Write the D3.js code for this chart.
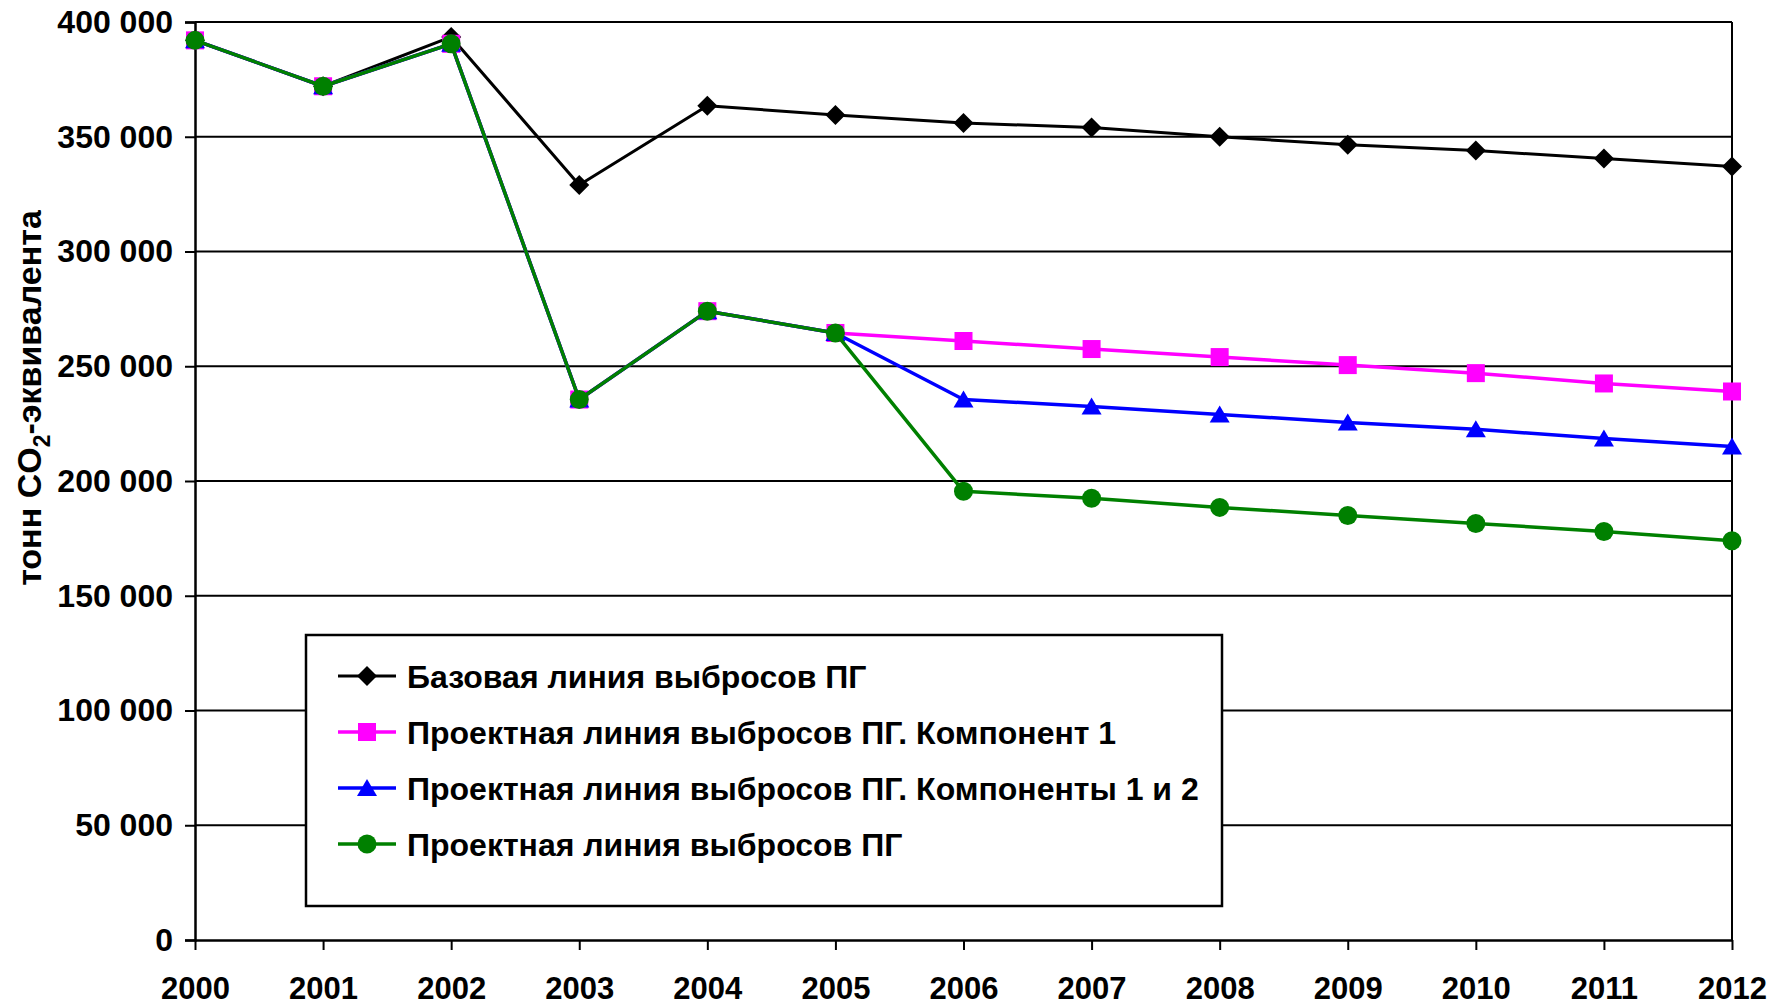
<!DOCTYPE html>
<html>
<head>
<meta charset="utf-8">
<script src="https://cdn.jsdelivr.net/npm/d3@7"></script>
<style>
  body { margin: 0; background: #fff; }
  text { font-family: "Liberation Sans", Arial, sans-serif; font-weight: bold; }
</style>
</head>
<body>
<script>
const years = [2000, 2001, 2002, 2003, 2004, 2005, 2006, 2007, 2008, 2009, 2010, 2011, 2012];
const baseLine = [392000, 372000, 393500, 329000, 363500, 359500, 356000, 354000, 350000, 346500, 344000, 340500, 337000];
const comp1 = [392000, 372000, 390500, 235500, 274000, 264500, 261000, 257500, 254000, 250500, 247000, 242500, 239000];
const comp12 = [392000, 372000, 390500, 235500, 274000, 264500, 235500, 232500, 229000, 225500, 222500, 218500, 215000];
const project = [392000, 372000, 390500, 235500, 274000, 264500, 195500, 192500, 188500, 185000, 181500, 178000, 174000];
const yTicks = [0, 50000, 100000, 150000, 200000, 250000, 300000, 350000, 400000];
const seriesNames = [
  'Базовая линия выбросов ПГ',
  'Проектная линия выбросов ПГ. Компонент 1',
  'Проектная линия выбросов ПГ. Компоненты 1 и 2',
  'Проектная линия выбросов ПГ'
];

const W = 1787, H = 1006;
const plotL = 195, plotR = 1732, plotT = 22, plotB = 940;

const svg = d3.select(document.body).append('svg')
  .attr('width', W)
  .attr('height', H);

const x = d3.scalePoint().domain(years).range([plotL, plotR]);
const y = d3.scaleLinear().domain([0, 400000]).range([plotB, plotT]);

const ru = d3.formatLocale({decimal: ',', thousands: ' ', grouping: [3], currency: ['', '']});
const fmt = ru.format(',');

// gridlines
svg.append('g').selectAll('line')
  .data(yTicks.filter(d => d > 0))
  .join('line')
  .attr('x1', plotL).attr('x2', plotR)
  .attr('y1', d => y(d)).attr('y2', d => y(d))
  .attr('stroke', '#000')
  .attr('stroke-width', 1.8);

// right border
svg.append('line')
  .attr('x1', plotR).attr('x2', plotR)
  .attr('y1', plotT).attr('y2', plotB)
  .attr('stroke', '#000')
  .attr('stroke-width', 2);

const yAxis = svg.append('g')
  .attr('transform', `translate(${plotL},0)`)
  .call(d3.axisLeft(y).tickValues(yTicks).tickFormat(fmt).tickSize(10).tickPadding(12));
yAxis.select('.domain').attr('stroke-width', 2.5).attr('stroke', '#000');
yAxis.selectAll('.tick line').attr('stroke-width', 2).attr('stroke', '#000');
yAxis.selectAll('.tick text')
  .attr('font-size', 32)
  .attr('fill', '#000')
  .attr('font-family', '"Liberation Sans", Arial, sans-serif')
  .attr('font-weight', 'bold');

const xAxis = svg.append('g')
  .attr('transform', `translate(0,${plotB})`)
  .call(d3.axisBottom(x).tickSize(10).tickPadding(27).tickSizeOuter(0));
xAxis.select('.domain').attr('stroke-width', 2.5).attr('stroke', '#000');
xAxis.selectAll('.tick line').attr('stroke-width', 2).attr('stroke', '#000');
xAxis.selectAll('.tick text')
  .attr('font-size', 31)
  .attr('fill', '#000')
  .attr('font-family', '"Liberation Sans", Arial, sans-serif')
  .attr('font-weight', 'bold');

// y title
const yTitle = svg.append('text')
  .attr('transform', `translate(41,${398}) rotate(-90)`)
  .attr('text-anchor', 'middle')
  .attr('font-size', 34)
  .attr('fill', '#000');
yTitle.append('tspan').text('тонн CO');
yTitle.append('tspan').attr('font-size', 23).attr('dy', 9).text('2');
yTitle.append('tspan').attr('dy', -9).text('-эквивалента');

// markers
function marker(g, type, color) {
  if (type == 'diamond') {
    g.append('path').attr('d', 'M0,-10 L10,0 L0,10 L-10,0 Z').attr('fill', color);
  } else if (type == 'square') {
    g.append('rect').attr('x', -9).attr('y', -9).attr('width', 18).attr('height', 18).attr('fill', color);
  } else if (type == 'triangle') {
    g.append('path').attr('d', 'M0,-9 L10,8 L-10,8 Z').attr('fill', color);
  } else {
    g.append('circle').attr('r', 9.5).attr('fill', color);
  }
}

const series = [
  {name: seriesNames[0], values: baseLine, color: '#000000', type: 'diamond', width: 3},
  {name: seriesNames[1], values: comp1, color: '#ff00ff', type: 'square', width: 3.5},
  {name: seriesNames[2], values: comp12, color: '#0000ff', type: 'triangle', width: 3.5},
  {name: seriesNames[3], values: project, color: '#008000', type: 'circle', width: 3.5}
];

const line = d3.line().x((d, i) => x(years[i])).y(d => y(d));

series.forEach(s => {
  svg.append('path')
    .attr('d', line(s.values))
    .attr('fill', 'none')
    .attr('stroke', s.color)
    .attr('stroke-width', s.width)
    .attr('stroke-linejoin', 'round');
  s.values.forEach((v, i) => {
    const g = svg.append('g').attr('transform', `translate(${x(years[i])},${y(v)})`);
    marker(g, s.type, s.color);
  });
});

// legend
const legend = svg.append('g');
legend.append('rect')
  .attr('x', 306).attr('y', 635)
  .attr('width', 916).attr('height', 271)
  .attr('fill', '#fff')
  .attr('stroke', '#000')
  .attr('stroke-width', 2.5);

series.forEach((s, i) => {
  const ly = 676 + i * 56;
  legend.append('line')
    .attr('x1', 338).attr('x2', 396)
    .attr('y1', ly).attr('y2', ly)
    .attr('stroke', s.color)
    .attr('stroke-width', s.width);
  marker(legend.append('g').attr('transform', `translate(367,${ly})`), s.type, s.color);
  legend.append('text')
    .attr('x', 407).attr('y', ly)
    .attr('dy', '0.36em')
    .attr('font-size', 32)
    .attr('fill', '#000')
    .text(s.name);
});
</script>
</body>
</html>
